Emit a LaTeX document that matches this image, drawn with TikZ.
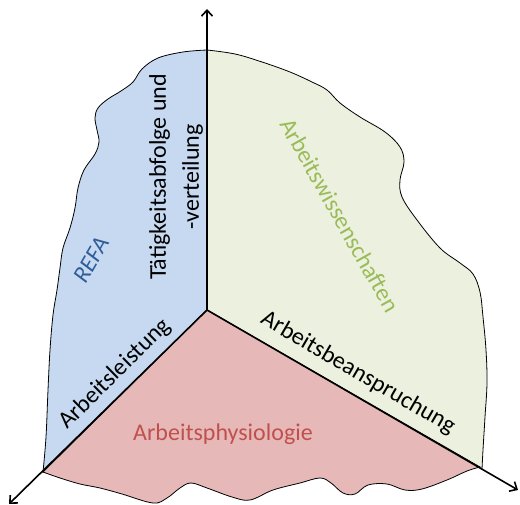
\documentclass[tikz,border=0pt]{standalone}
\usepackage{fontspec}
\setmainfont{Carlito}
\usetikzlibrary{arrows.meta}
\definecolor{refafill}{HTML}{C6D9F1}
\definecolor{wissfill}{HTML}{EBF1DE}
\definecolor{physfill}{HTML}{E6B9B8}
\definecolor{refatext}{HTML}{2F5D99}
\definecolor{wisstext}{HTML}{9BBB59}
\definecolor{phystext}{HTML}{C0504D}
\tikzset{
  area/.style={draw=black, line width=0.8pt},
  axis/.style={-{Straight Barb[length=6pt,width=11pt]}, line width=1.6pt},
  lbl/.style={font=\fontsize{24}{33}\selectfont, inner sep=0pt, align=center}}

\begin{document}
\begin{tikzpicture}[x=1pt, y=-1pt]
  \useasboundingbox (0,0) rectangle (520,505);
  \coordinate (O) at (207,310);
  \coordinate (top) at (207,9);
  \coordinate (dl) at (9,504);
  \coordinate (dr) at (518,490);
  % three areas
  \filldraw[area, fill=refafill] (O) -- plot[smooth, tension=0.6] coordinates {
    (207,50) (183,52) (158,58) (142,69) (133,82) (121,91) (108,99) (98,108)
    (95,118) (97,130) (99,142) (95,154) (84,170) (78,188) (75,208) (70,228)
    (63,248) (60,268) (57,290) (53,315) (50,350) (48,390) (46,437) (43,472)} -- cycle;
  \filldraw[area, fill=wissfill] (O) -- plot[smooth, tension=0.6] coordinates {
    (207,50) (235,54) (262,62) (290,72) (312,82) (327,90) (340,103) (360,117)
    (385,132) (400,147) (404,162) (400,180) (402,197) (417,220) (440,248)
    (460,263) (473,274) (480,292) (483,317) (486,350) (487,383) (485,417)
    (483,450) (482,469)} -- cycle;
  \filldraw[area, fill=physfill] (O) -- plot[smooth, tension=0.6] coordinates {
    (43,472) (60,478) (80,484) (100,488) (122,494) (153,503) (167,498)
    (180,488) (191,483) (207,488) (232,497) (250,500) (273,490) (300,483)
    (320,478) (331,483) (343,493) (355,494) (368,485) (387,484) (405,490)
    (422,489) (447,480) (467,471) (480,467)} -- cycle;
  % axes
  \draw[axis] (O) -- (top);
  \draw[axis] (O) -- (dl);
  \draw[axis] (O) -- (dr);
  % labels
  \node[lbl, rotate=90] (taetig) at (176,177) {Tätigkeitsabfolge und\\-verteilung};
  \node[lbl, rotate=60, text=refatext, font=\fontsize{24}{33}\selectfont\itshape] (refa) at (91,260) {REFA};
  \node[lbl, rotate=44.5] (leistung) at (115,374) {Arbeitsleistung};
  \node[lbl, rotate=-30.2] (beansp) at (358,373) {Arbeitsbeanspruchung};
  \node[lbl, rotate=-60.5, text=wisstext] (wiss) at (340,215) {Arbeitswissenschaften};
  \node[lbl, text=phystext] (phys) at (223,434) {Arbeitsphysiologie};
\end{tikzpicture}
\end{document}
